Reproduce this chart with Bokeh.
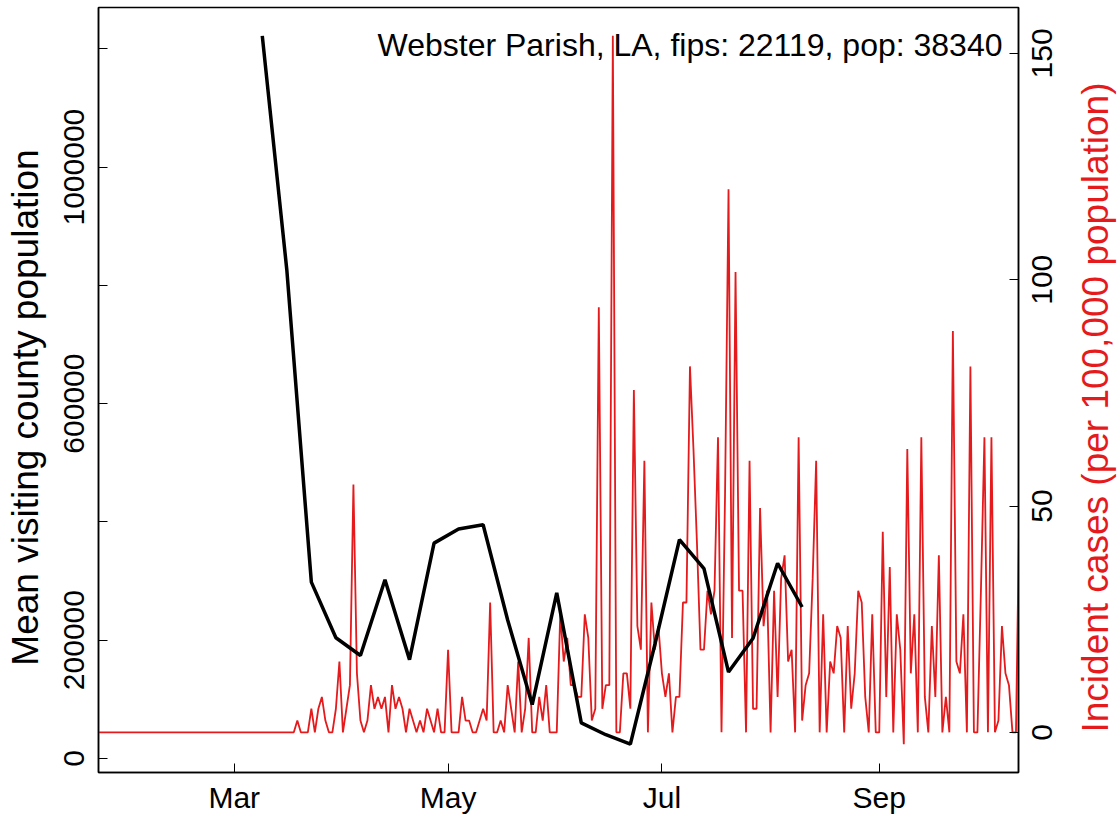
import math
import pandas as pd
from bokeh.plotting import figure
from bokeh.models import Range1d, LinearAxis, FixedTicker, DatetimeTickFormatter, Label
from bokeh.embed import file_html
from bokeh.resources import INLINE

# ---------------- data ----------------
county_name = "Webster Parish, LA"
county_fips = 22119
county_pop = 38340

# weekly mean visiting county population (black line), first week 2020-03-09
mobility_start = "2020-03-09"
mean_visiting_pop = [1222000, 826000, 298000, 204000, 174000, 302000, 167000,
                     364000, 388000, 395000, 234000, 91000, 280000, 60000,
                     40000, 24000, 193000, 370000, 321000, 146000, 203000,
                     330000, 256000]

# daily incident case counts (red line), first day 2020-01-22
cases_start = "2020-01-22"
incident_counts = [
    0, 0, 0, 0, 0, 0, 0, 0, 0, 0,
    0, 0, 0, 0, 0, 0, 0, 0, 0, 0,
    0, 0, 0, 0, 0, 0, 0, 0, 0, 0,
    0, 0, 0, 0, 0, 0, 0, 0, 0, 0,
    0, 0, 0, 0, 0, 0, 0, 0, 0, 0,
    0, 0, 0, 0, 0, 0,
    0, 1, 0, 0, 0, 2, 0, 2, 3, 1,
    0, 0, 2, 6, 0, 2, 4, 21, 5, 1,
    0, 1, 4, 2, 3, 2, 3, 0, 4, 2,
    3, 2, 0, 2, 1, 0, 1, 0, 2, 1,
    0, 2, 0, 0, 7, 0, 0, 0, 3, 1,
    1, 0, 0, 1, 2, 1, 11, 0, 0, 1,
    0, 4, 2, 0, 6, 0, 2, 8, 0, 0,
    3, 1, 4, 0, 0, 0, 10, 6, 8, 4,
    4, 3, 3, 10, 8, 1, 2, 36, 2, 4,
    4, 59, 0, 0, 5, 5, 2, 29, 9, 7,
    23, 0, 11, 7, 9, 5, 3, 5, 0, 3,
    3, 11, 11, 31, 24, 16, 7, 7, 12, 10,
    12, 25, 0, 20, 46, 8, 39, 12, 12, 0,
    23, 2, 2, 19, 9, 12, 0, 12, 3, 13,
    15, 6, 7, 0, 25, 1, 4, 5, 13, 23,
    0, 10, 0, 6, 5, 9, 8, 0, 9, 2,
    5, 12, 11, 3, 0, 10, 0, 0, 17, 3,
    14, 0, 10, 7, -1, 24, 5, 10, 0, 25,
    3, 0, 9, 3, 15, 0, 3, 0, 34, 6,
    5, 10, 0, 31, 0, 0, 12, 25, 0, 25,
    0, 1, 9, 5, 4, 0, 0, 20,
]

x_limits = ["2020-02-01", "2020-10-01"]
x_tick_dates = ["2020-03-01", "2020-05-01", "2020-07-01", "2020-09-01"]
left_ticks = [0, 200000, 400000, 600000, 800000, 1000000, 1200000]
left_tick_labels = ["0", "200000", "", "600000", "", "1000000", ""]
right_ticks = [0, 50, 100, 150]
right_tick_labels = ["0", "50", "100", "150"]
left_title = "Mean visiting county population"
right_title = "Incident cases (per 100,000 population)"

# ---------------- derived ----------------
mob_dates = pd.date_range(mobility_start, periods=len(mean_visiting_pop), freq="7D")
case_dates = pd.date_range(cases_start, periods=len(incident_counts), freq="D")
case_rate = [c * 100000.0 / county_pop for c in incident_counts]

def padded(lo, hi, f=0.04):
    d = (hi - lo) * f
    return lo - d, hi + d

ms = lambda t: pd.Timestamp(t).value / 1e6
x0, x1 = ms(x_limits[0]), ms(x_limits[1])
xs, xe = x0 - 0.04 * (x1 - x0), x1 + 0.04 * (x1 - x0)

yb0, yb1 = padded(min(mean_visiting_pop), max(mean_visiting_pop))
yr0, yr1 = padded(min(case_rate), max(case_rate))

FW, FH = 920, 765
px_x = (xe - xs) / FW            # ms per pixel
px_r = (yr1 - yr0) / FH          # case-rate units per pixel
px_b = (yb1 - yb0) / FH          # population units per pixel
FONT = "Liberation Sans"
RED = "#E41A1C"
TICK_PX, LAB_PX = 30, 37
TITLE_DROP = 400                 # axis titles centred 400 px below the frame top

p = figure(x_axis_type="datetime", output_backend="svg", toolbar_location=None,
           frame_width=FW, frame_height=FH,
           min_border_left=98, min_border_right=99, min_border_top=7, min_border_bottom=42,
           x_range=Range1d(xs, xe), y_range=Range1d(yb0, yb1))
p.extra_y_ranges = {"cases": Range1d(yr0, yr1)}
p.grid.visible = False
p.outline_line_color = "black"
p.outline_line_width = 1.5
p.background_fill_color = "white"
p.border_fill_color = "white"

p.line(case_dates, case_rate, y_range_name="cases", line_color=RED, line_width=1.8)
p.line(mob_dates, mean_visiting_pop, line_color="black", line_width=3.5)

# x axis
xa = p.xaxis[0]
xa.ticker = FixedTicker(ticks=[ms(t) for t in x_tick_dates])
xa.formatter = DatetimeTickFormatter(days="%b", months="%b", years="%b", hours="%b",
                                     minutes="%b", seconds="%b", milliseconds="%b",
                                     microseconds="%b", minsec="%b", hourmin="%b")
xa.minor_tick_line_color = None
xa.major_tick_in = 9
xa.major_tick_out = 0
xa.major_label_standoff = 8
xa.major_label_text_font = FONT
xa.major_label_text_font_size = f"{TICK_PX}px"
xa.major_label_text_color = "black"
xa.axis_line_width = 1.5

# left axis
ya = p.yaxis[0]
ya.ticker = FixedTicker(ticks=left_ticks)
ya.major_label_overrides = {t: s for t, s in zip(left_ticks, left_tick_labels)}
ya.major_label_orientation = "vertical"
ya.minor_tick_line_color = None
ya.major_tick_in = 9
ya.major_tick_out = 0
ya.major_label_standoff = 14
ya.major_label_text_font = FONT
ya.major_label_text_font_size = f"{TICK_PX}px"
ya.major_label_text_color = "black"
ya.axis_line_width = 1.5

p.add_layout(Label(x=xs - 73 * px_x, y=yb1 - TITLE_DROP * px_b, text=left_title,
                   angle=math.pi / 2, text_align="center", text_baseline="alphabetic",
                   text_font=FONT, text_font_size=f"{LAB_PX}px", text_color="black"), "left")

# right axis: tick marks
ra = LinearAxis(y_range_name="cases", ticker=FixedTicker(ticks=right_ticks))
ra.major_label_overrides = {t: "" for t in right_ticks}
ra.major_label_text_font_size = "1px"
ra.major_label_standoff = 0
ra.minor_tick_line_color = None
ra.major_tick_in = 9
ra.major_tick_out = 0
ra.axis_line_width = 1.5
p.add_layout(ra, "right")

# right axis: tick labels reading upwards (text starts at the anchor, so anchor
# each label half its length below the tick it names)
shifted = [t - 0.5 * TICK_PX * 0.556 * len(s) * px_r for t, s in zip(right_ticks, right_tick_labels)]
rl = LinearAxis(y_range_name="cases", ticker=FixedTicker(ticks=shifted))
rl.major_label_overrides = {t: s for t, s in zip(shifted, right_tick_labels)}
rl.major_label_orientation = math.pi / 2
rl.axis_line_color = None
rl.major_tick_line_color = None
rl.minor_tick_line_color = None
rl.major_tick_in = 0
rl.major_tick_out = 0
rl.major_label_standoff = 24
rl.major_label_text_font = FONT
rl.major_label_text_font_size = f"{TICK_PX}px"
rl.major_label_text_color = "black"
p.add_layout(rl, "right")

# right axis title
p.add_layout(Label(x=xe + 77 * px_x, y=yr1 - TITLE_DROP * px_r, y_range_name="cases",
                   text=right_title,
                   angle=math.pi / 2, text_align="center", text_baseline="alphabetic",
                   text_font=FONT, text_font_size=f"{LAB_PX}px", text_color=RED), "right")

# county annotation (top right)
p.add_layout(Label(x=xs + 904 * px_x, y=yb1 - 37 * px_b,
                   text=f"{county_name}, fips: {county_fips}, pop: {county_pop}",
                   text_align="right", text_baseline="middle",
                   text_font=FONT, text_font_size="32px", text_color="black"))

open("out.html", "w").write(file_html(p, INLINE))
